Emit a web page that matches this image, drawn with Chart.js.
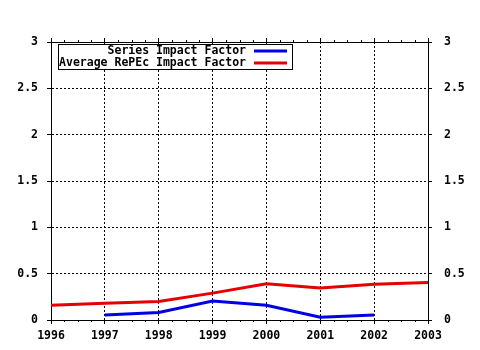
<!DOCTYPE html>
<html>
<head>
<meta charset="utf-8">
<script src="https://cdn.jsdelivr.net/npm/chart.js@4.4.1/dist/chart.umd.min.js"></script>
<style>
  body { margin: 0; background: #fff; }
  #impact { display: block; }
</style>
</head>
<body>
<canvas id="impact" width="480" height="350"></canvas>
<script>
var years = [1996, 1997, 1998, 1999, 2000, 2001, 2002, 2003];
var seriesImpact = [null, 0.054, 0.08, 0.205, 0.16, 0.03, 0.055, null];
var averageImpact = [0.16, 0.18, 0.20, 0.29, 0.39, 0.345, 0.385, 0.405];
var seriesLabels = ["Series Impact Factor", "Average RePEc Impact Factor"];
var seriesColors = ["#0000e6", "#e60000"];

var FONT = {family: "'DejaVu Sans Mono', monospace", size: 11.5, weight: 'bold'};

function points(values) {
    var out = [];
    for (var i = 0; i < years.length; i++) {
        out.push({x: years[i], y: values[i]});
    }
    return out;
}

// little ticks between the years, on the top and bottom frame lines
var minorTicks = {
    id: 'minorTicks',
    afterDraw: function(chart) {
        var ctx = chart.ctx;
        var sx = chart.scales.x;
        var area = chart.chartArea;
        ctx.save();
        ctx.strokeStyle = '#000';
        ctx.lineWidth = 1;
        ctx.beginPath();
        for (var i = 0; i < years.length - 1; i++) {
            for (var k = 1; k < 4; k++) {
                var px = Math.round(sx.getPixelForValue(years[i] + k / 4)) + 0.5;
                ctx.moveTo(px, area.bottom);
                ctx.lineTo(px, area.bottom + 2);
                ctx.moveTo(px, area.top);
                ctx.lineTo(px, area.top - 2);
            }
        }
        ctx.stroke();
        ctx.restore();
    }
};

// boxed legend in the upper left corner of the plot
var boxLegend = {
    id: 'boxLegend',
    afterDraw: function(chart) {
        var ctx = chart.ctx;
        ctx.save();
        ctx.fillStyle = '#fff';
        ctx.fillRect(58, 44, 234, 25);
        ctx.strokeStyle = '#000';
        ctx.lineWidth = 1;
        ctx.strokeRect(58.5, 44.5, 234, 25);
        ctx.font = FONT.weight + ' ' + FONT.size + 'px ' + FONT.family;
        ctx.textAlign = 'right';
        ctx.textBaseline = 'middle';
        var rows = [51, 63];
        for (var i = 0; i < seriesLabels.length; i++) {
            ctx.fillStyle = '#000';
            ctx.fillText(seriesLabels[i], 246, rows[i]);
            ctx.strokeStyle = seriesColors[i];
            ctx.lineWidth = 3;
            ctx.beginPath();
            ctx.moveTo(254, rows[i]);
            ctx.lineTo(287, rows[i]);
            ctx.stroke();
        }
        ctx.restore();
    }
};

var plainTick = function(value) { return String(value); };

new Chart(document.getElementById('impact'), {
    type: 'line',
    data: {
        datasets: [
            {
                label: seriesLabels[0],
                data: points(seriesImpact),
                borderColor: seriesColors[0],
                borderWidth: 3,
                pointRadius: 0,
                tension: 0,
                spanGaps: false
            },
            {
                label: seriesLabels[1],
                data: points(averageImpact),
                borderColor: seriesColors[1],
                borderWidth: 3,
                pointRadius: 0,
                tension: 0
            }
        ]
    },
    options: {
        responsive: false,
        animation: false,
        layout: {padding: 0},
        plugins: {legend: {display: false}, tooltip: {enabled: false}},
        scales: {
            x: {
                type: 'linear',
                position: 'bottom',
                min: years[0],
                max: years[years.length - 1],
                afterFit: function(s) { s.height = 30; },
                ticks: {stepSize: 1, color: '#000', font: FONT, padding: 5, maxRotation: 0, callback: plainTick},
                grid: {color: '#000', tickLength: 4, tickColor: '#000'},
                border: {color: '#000', width: 1, dash: [2, 2]}
            },
            x2: {
                type: 'linear',
                position: 'top',
                min: years[0],
                max: years[years.length - 1],
                afterFit: function(s) { s.height = 42; },
                ticks: {stepSize: 1, display: false},
                grid: {drawOnChartArea: false, tickLength: 4, tickColor: '#000'},
                border: {color: '#000', width: 1}
            },
            y: {
                position: 'left',
                min: 0,
                max: 3,
                afterFit: function(s) { s.width = 51; },
                ticks: {stepSize: 0.5, color: '#000', font: FONT, padding: 9, callback: plainTick},
                grid: {color: '#000', tickLength: 4, tickColor: '#000'},
                border: {color: '#000', width: 1, dash: [2, 2]}
            },
            y2: {
                position: 'right',
                min: 0,
                max: 3,
                afterFit: function(s) { s.width = 52; },
                ticks: {stepSize: 0.5, color: '#000', font: FONT, padding: 12, callback: plainTick},
                grid: {drawOnChartArea: false, tickLength: 4, tickColor: '#000'},
                border: {color: '#000', width: 1}
            }
        }
    },
    plugins: [minorTicks, boxLegend]
});
</script>
</body>
</html>
